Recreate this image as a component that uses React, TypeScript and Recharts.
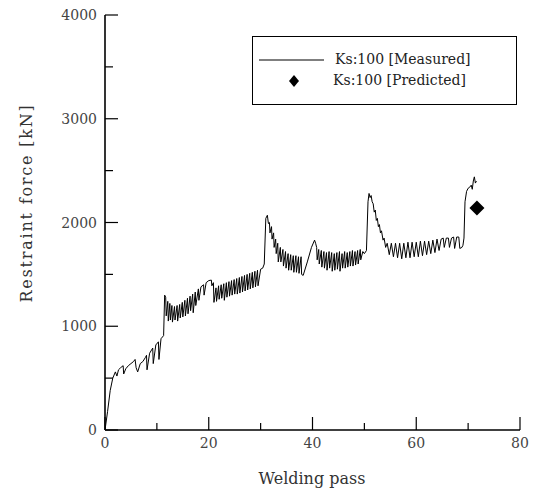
import React from "react";
import {
  ComposedChart,
  Line,
  Scatter,
  XAxis,
  YAxis,
  Legend,
  Label,
} from "recharts";

// Welding pass vs restraint force
const measuredPass = [
  0, 0.5, 1, 1.5, 2, 2.3, 2.6, 3, 3.5, 3.6, 4, 4.5, 5, 5.5, 5.8, 6, 6.3, 6.8, 7.3, 7.8, 8, 8.1, 8.6, 9.2, 9.3, 9.8, 10.3, 10.4, 10.8, 11.3,
  11.5, 11.7, 11.8, 12.1, 12.2, 12.5, 12.6, 12.9, 13, 13.4, 13.5, 13.9, 14, 14.4, 14.5, 14.9, 15, 15.4, 15.5, 15.9, 16, 16.4, 16.5, 16.9, 17, 17.4, 17.5, 18, 18.1, 18.5, 19, 19.1, 19.5, 20, 20.5,
  20.6, 20.9, 21, 21.4, 21.5, 21.9, 22, 22.4, 22.5, 22.9, 23, 23.4, 23.5, 23.9, 24, 24.4, 24.5, 24.9, 25, 25.4, 25.5, 25.9, 26, 26.4, 26.5, 26.9, 27, 27.4, 27.5, 27.9, 28, 28.4, 28.5, 28.9, 29, 29.4, 29.5, 30, 30.4, 30.7, 31,
  31.3, 31.5, 31.7, 31.8, 32.1, 32.2, 32.5, 32.6, 32.9, 33, 33.3, 33.4, 33.8, 33.9, 34.3, 34.4, 34.8, 34.9, 35.3, 35.4, 35.8, 35.9, 36.3, 36.4, 36.8, 36.9, 37.3, 37.4, 37.8, 37.9, 38.2, 39, 39.8, 40.4, 40.6, 40.8, 40.9, 41.2, 41.3, 41.7, 41.8,
  42.2, 42.3, 42.7, 42.8, 43.2, 43.3, 43.7, 43.8, 44.2, 44.3, 44.7, 44.8, 45.2, 45.3, 45.7, 45.8, 46.2, 46.3, 46.7, 46.8, 47.2, 47.3, 47.7, 47.8, 48.2, 48.3, 48.7, 48.8, 49.2, 49.3, 49.7, 50, 50.4, 50.7, 50.9, 51.1,
  51.3, 51.5, 51.7, 51.9, 52.1, 52.3, 52.5, 52.7, 52.9, 53.1, 53.3, 53.6, 53.8, 54.1, 54.4, 54.8, 55.2, 55.6, 56, 56.4, 56.8, 57.2, 57.6, 58, 58.4, 58.8, 59.2, 59.6, 60, 60.4, 60.8, 61.2, 61.6, 62, 62.4, 62.8, 63.2, 63.6, 64, 64.4,
  64.8, 65.2, 65.4, 65.8, 66.2, 66.4, 66.8, 67.2, 67.4, 67.8, 68.2, 68.4, 68.8, 69, 69.2, 69.4, 69.7, 70, 70.3, 70.6, 70.8, 71, 71.2, 71.4, 71.6,
];
const measuredForce = [
  0, 180, 380, 500, 560, 520, 580, 600, 620, 540, 590, 620, 640, 660, 680, 600, 560, 640, 660, 700, 720, 580, 740, 790, 640, 820, 850, 680, 880, 910,
  1300, 1280, 1100, 1240, 1050, 1220, 1060, 1200, 1040, 1190, 1060, 1200, 1050, 1210, 1080, 1230, 1090, 1250, 1100, 1270, 1120, 1290, 1150, 1310, 1130, 1330, 1200, 1360, 1250, 1380, 1400, 1300, 1420, 1440, 1445,
  1390, 1420, 1230, 1370, 1240, 1390, 1260, 1400, 1270, 1410, 1250, 1420, 1280, 1430, 1290, 1440, 1300, 1450, 1310, 1460, 1310, 1470, 1320, 1480, 1330, 1490, 1340, 1500, 1350, 1510, 1360, 1520, 1370, 1530, 1380, 1540, 1390, 1550, 1560, 1600, 2040,
  2070, 1990, 2000, 1900, 1960, 1840, 1900, 1760, 1840, 1700, 1800, 1620, 1760, 1620, 1740, 1580, 1720, 1560, 1700, 1540, 1690, 1540, 1680, 1520, 1680, 1520, 1670, 1510, 1670, 1500, 1490, 1620, 1760, 1830, 1800, 1760, 1640, 1740, 1600, 1730, 1570,
  1720, 1560, 1710, 1540, 1720, 1560, 1710, 1530, 1700, 1540, 1710, 1550, 1720, 1530, 1700, 1560, 1720, 1560, 1710, 1570, 1720, 1580, 1730, 1580, 1720, 1590, 1730, 1600, 1740, 1640, 1720, 1700, 1730, 2200, 2280, 2240,
  2260, 2200, 2180, 2100, 2120, 2020, 2040, 1960, 1980, 1900, 1920, 1830, 1850, 1760, 1800, 1690, 1800, 1670, 1800, 1660, 1800, 1650, 1800, 1660, 1810, 1660, 1810, 1670, 1810, 1670, 1820, 1680, 1820, 1690, 1820, 1700, 1830, 1710, 1840, 1730,
  1840, 1850, 1760, 1850, 1850, 1760, 1850, 1860, 1750, 1860, 1860, 1750, 1760, 1780, 1850, 2200, 2300, 2330, 2340, 2360, 2320, 2400, 2440, 2380, 2400,
];

const predictedPass = [71.7];
const predictedForce = [2140];

const xTicks = [0, 10, 20, 30, 40, 50, 60, 70, 80];
const yTicks = [0, 500, 1000, 1500, 2000, 2500, 3000, 3500, 4000];

const measured = measuredPass.map((x, i) => ({ x, y: measuredForce[i] }));
const predicted = predictedPass.map((x, i) => ({ x, y: predictedForce[i] }));

const FONT = "'DejaVu Serif', serif";

const XTick = ({ x, y, payload }: any) => {
  const major = payload.value % 20 === 0;
  return (
    <g>
      <line x1={x} y1={y} x2={x} y2={y - (major ? 13 : 7)} stroke="#000" strokeWidth={1.2} />
      {major && (
        <text x={x} y={y + 18} textAnchor="middle" fontFamily={FONT} fontSize={14} fill="#444">
          {payload.value}
        </text>
      )}
    </g>
  );
};

const YTick = ({ x, y, payload }: any) => {
  const major = payload.value % 1000 === 0;
  return (
    <g>
      <line x1={x} y1={y} x2={x + (major ? 13 : 8)} y2={y} stroke="#000" strokeWidth={1.2} />
      {major && (
        <text x={x - 8} y={y + 5} textAnchor="end" fontFamily={FONT} fontSize={14} fill="#444">
          {payload.value}
        </text>
      )}
    </g>
  );
};

const Diamond = ({ cx, cy }: any) => (
  <path d={`M${cx},${cy - 7.5} L${cx + 7.5},${cy} L${cx},${cy + 7.5} L${cx - 7.5},${cy} Z`} fill="#000" />
);

const renderLegend = () => (
  <div
    style={{
      width: 265,
      height: 69,
      boxSizing: "border-box",
      border: "1.3px solid #000",
      background: "#fff",
      fontFamily: FONT,
      fontSize: 14,
      color: "#222",
      position: "relative",
    }}
  >
    <svg width={80} height={60} style={{ position: "absolute", left: 0, top: 0 }}>
      <line x1={6} y1={23} x2={71} y2={23} stroke="#000" strokeWidth={1.2} />
      <path d="M41,38 L46,44 L41,50 L36,44 Z" fill="#000" />
    </svg>
    <div style={{ position: "absolute", left: 82, top: 14, whiteSpace: "nowrap" }}>Ks:100 [Measured]</div>
    <div style={{ position: "absolute", left: 80, top: 35, whiteSpace: "nowrap" }}>Ks:100 [Predicted]</div>
  </div>
);

export default function App() {
  return (
    <div style={{ position: "absolute", left: 0, top: 0, background: "#fff" }}>
      <ComposedChart width={537} height={490} margin={{ top: 15, right: 17, left: 45, bottom: 30 }}>
        <XAxis
          type="number"
          dataKey="x"
          domain={[0, 80]}
          ticks={xTicks}
          interval={0}
          tickSize={0}
          tickMargin={0}
          tick={<XTick />}
          height={30}
          axisLine={{ stroke: "#000", strokeWidth: 1.6 }}
          allowDataOverflow
        >
          <Label
            content={() => (
              <text x={312} y={484} textAnchor="middle" fontFamily={FONT} fontSize={16} fill="#333">
                Welding pass
              </text>
            )}
          />
        </XAxis>
        <YAxis
          type="number"
          domain={[0, 4000]}
          ticks={yTicks}
          interval={0}
          tickSize={0}
          tickMargin={0}
          tick={<YTick />}
          width={60}
          axisLine={{ stroke: "#000", strokeWidth: 1.6 }}
          allowDataOverflow
        >
          <Label
            content={() => (
              <text
                x={32}
                y={203}
                textAnchor="middle"
                transform="rotate(-90 32 203)"
                fontFamily={FONT}
                fontSize={16}
                letterSpacing={1.8}
                fill="#333"
              >
                Restraint force [kN]
              </text>
            )}
          />
        </YAxis>
        <Legend
          content={renderLegend}
          layout="horizontal"
          verticalAlign="middle"
          wrapperStyle={{ left: 252, top: 36, width: 265, height: 69 }}
        />
        <Line
          data={measured}
          dataKey="y"
          type="linear"
          stroke="#000"
          strokeWidth={1}
          dot={false}
          isAnimationActive={false}
          legendType="line"
          name="Ks:100 [Measured]"
        />
        <Scatter
          data={predicted}
          dataKey="y"
          shape={<Diamond />}
          isAnimationActive={false}
          name="Ks:100 [Predicted]"
        />
      </ComposedChart>
    </div>
  );
}
